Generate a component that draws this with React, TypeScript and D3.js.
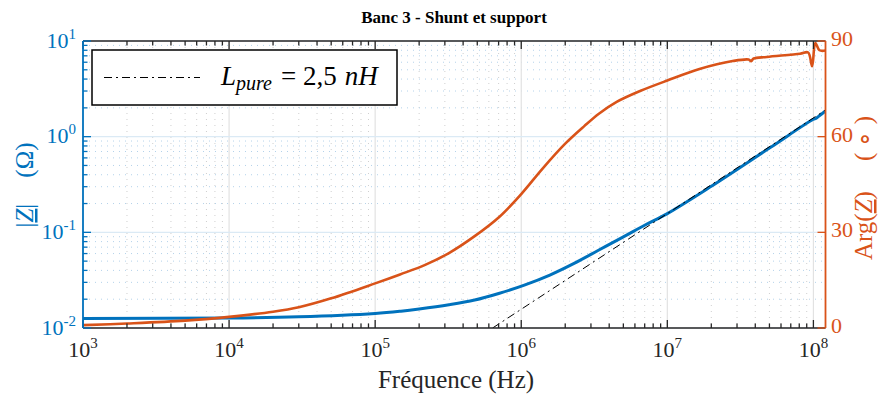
import * as d3 from 'd3';

// |Z| (ohm)
const freqMag = [1e3, 1e4, 3e4, 1e5, 1.5e5, 2e5, 3.2e5, 4.8e5, 7.1e5, 1.05e6, 1.57e6, 2.3e6, 3.4e6, 5e6, 7e6, 1e7, 2e7, 5e7, 1e8, 1.04e8, 1.08e8, 1.21e8];
const magZ = [0.0126, 0.0127, 0.0131, 0.0142, 0.015, 0.0158, 0.0175, 0.0196, 0.0231, 0.0281, 0.0358, 0.0474, 0.0653, 0.0895, 0.1185, 0.157, 0.303, 0.76, 1.52, 1.55, 1.62, 1.86];

// Arg(Z) (deg)
const freqPhase = [1e3, 2e3, 5e3, 1e4, 2e4, 3e4, 5e4, 1e5, 1.48e5, 2.2e5, 3.2e5, 4.8e5, 7.1e5, 1e6, 1.4e6, 2e6, 2.7e6, 3.4e6, 4.5e6, 6.5e6, 1e7, 1.66e7, 2.8e7, 3.6e7, 3.75e7, 3.9e7, 4.8e7, 8.1e7, 9.2e7, 9.8e7, 1.03e8, 1.1e8, 1.21e8];
const phaseZ = [0.9, 1.4, 2.3, 3.5, 5.1, 6.5, 9.3, 14, 16.8, 19.8, 23.5, 28.8, 34.9, 42, 50, 57.8, 63.3, 67.2, 70.9, 74.3, 77.6, 81.2, 83.7, 84.2, 83.7, 84.5, 85, 86, 86.4, 82.1, 89.4, 87.1, 87];

const lPure = 2.5e-9;
const xTickExps = [3, 4, 5, 6, 7, 8];
const yLeftTickExps = [-2, -1, 0, 1];
const yRightTicks = [0, 30, 60, 90];

const BLUE = '#0072BD';
const ORANGE = '#D95319';
const DARK = '#262626';
const FONT = '"Liberation Serif", serif';

const left = 83;
const right = 825.5;
const top = 41;
const bottom = 328;

export default function App() {
  const x = d3.scaleLog().domain([1e3, 1.21e8]).range([left, right]);
  const yL = d3.scaleLog().domain([1e-2, 1e1]).range([bottom, top]);
  const yR = d3.scaleLinear().domain([0, 90]).range([bottom, top]);

  const xMinor: number[] = [];
  for (let e = 3; e <= 8; e++) for (let k = 2; k <= 9; k++) if (k * 10 ** e <= 1.21e8) xMinor.push(k * 10 ** e);
  const yMinor: number[] = [];
  for (let e = -2; e <= 0; e++) for (let k = 2; k <= 9; k++) yMinor.push(k * 10 ** e);

  const magLine = d3
    .line<number>()
    .x((_, i) => x(freqMag[i]))
    .y((d) => yL(d))
    .curve(d3.curveCatmullRom.alpha(0.5));
  const phaseLine = d3
    .line<number>()
    .x((_, i) => x(freqPhase[i]))
    .y((d) => yR(d))
    .curve(d3.curveCatmullRom.alpha(0.5));

  // pure inductance |Z| = 2*pi*f*L, from where it enters the axes
  const fStart = 1e-2 / (2 * Math.PI * lPure);
  const indFreqs = [fStart, 1.21e8];
  const indLine = d3
    .line<number>()
    .x((d) => x(d))
    .y((d) => yL(2 * Math.PI * d * lPure));

  return (
    <svg width={880} height={398} style={{ position: 'absolute', left: 0, top: 0, background: '#fff' }} fontFamily={FONT}>
      <defs>
        <clipPath id="plot">
          <rect x={left} y={top} width={right - left} height={bottom - top} />
        </clipPath>
      </defs>

      {/* minor grid */}
      {xMinor.map((v) => (
        <line key={'xm' + v} x1={x(v)} x2={x(v)} y1={top} y2={bottom} stroke="#cfcfcf" strokeWidth={1} strokeDasharray="1,5" />
      ))}
      {yMinor.map((v) => (
        <line key={'ym' + v} x1={left} x2={right} y1={yL(v)} y2={yL(v)} stroke="#b4d2ea" strokeWidth={1} strokeDasharray="1,5" />
      ))}
      {/* major grid */}
      {xTickExps.map((e) => (
        <line key={'xg' + e} x1={x(10 ** e)} x2={x(10 ** e)} y1={top} y2={bottom} stroke="#e2e2e2" strokeWidth={1.2} />
      ))}
      {yLeftTickExps.map((e) => (
        <line key={'yg' + e} x1={left} x2={right} y1={yL(10 ** e)} y2={yL(10 ** e)} stroke="#dbeaf5" strokeWidth={1.2} />
      ))}

      {/* curves */}
      <g clipPath="url(#plot)">
        <path d={magLine(magZ) || ''} fill="none" stroke={BLUE} strokeWidth={3} strokeLinejoin="round" />
        <path d={indLine(indFreqs) || ''} fill="none" stroke="#000" strokeWidth={1} strokeDasharray="8,4,2,4" />
        <path d={phaseLine(phaseZ) || ''} fill="none" stroke={ORANGE} strokeWidth={2.6} strokeLinejoin="round" />
      </g>

      {/* top and bottom axes */}
      <line x1={left} x2={right} y1={top} y2={top} stroke={DARK} strokeWidth={1.6} />
      <line x1={left} x2={right} y1={bottom} y2={bottom} stroke={DARK} strokeWidth={1.6} />
      {xMinor.map((v) => (
        <g key={'xt' + v} stroke={DARK} strokeWidth={1.3}>
          <line x1={x(v)} x2={x(v)} y1={bottom} y2={bottom - 4.5} />
          <line x1={x(v)} x2={x(v)} y1={top} y2={top + 4.5} />
        </g>
      ))}
      {xTickExps.map((e) => (
        <g key={'xT' + e}>
          <line x1={x(10 ** e)} x2={x(10 ** e)} y1={bottom} y2={bottom - 8} stroke={DARK} strokeWidth={1.3} />
          <line x1={x(10 ** e)} x2={x(10 ** e)} y1={top} y2={top + 8} stroke={DARK} strokeWidth={1.3} />
          <text x={x(10 ** e)} y={357} textAnchor="middle" fontSize={22} fill={DARK}>
            10<tspan dy={-9} fontSize={15}>{e}</tspan>
          </text>
        </g>
      ))}

      {/* left axis */}
      <line x1={left} x2={left} y1={top} y2={bottom} stroke={BLUE} strokeWidth={1.8} />
      {yMinor.map((v) => (
        <line key={'yt' + v} x1={left} x2={left + 4.5} y1={yL(v)} y2={yL(v)} stroke={BLUE} strokeWidth={1.3} />
      ))}
      {yLeftTickExps.map((e) => (
        <g key={'yT' + e}>
          <line x1={left} x2={left + 8} y1={yL(10 ** e)} y2={yL(10 ** e)} stroke={BLUE} strokeWidth={1.3} />
          <text x={76} y={yL(10 ** e) + 6.5} textAnchor="end" fontSize={22} fill={BLUE}>
            10<tspan dy={-9} fontSize={15}>{e}</tspan>
          </text>
        </g>
      ))}

      {/* right axis */}
      <line x1={right} x2={right} y1={top} y2={bottom} stroke={ORANGE} strokeWidth={1.8} />
      {yRightTicks.map((v) => (
        <g key={'rT' + v}>
          <line x1={right} x2={right - 8} y1={yR(v)} y2={yR(v)} stroke={ORANGE} strokeWidth={1.3} />
          <text x={831} y={yR(v) + 5} fontSize={22} fill={ORANGE}>
            {v}
          </text>
        </g>
      ))}

      {/* axis labels */}
      <text transform="translate(33,185) rotate(-90)" textAnchor="middle" fontSize={25} fill={BLUE}>
        <tspan style={{ textDecoration: 'underline' }}>
          |<tspan fontStyle="italic">Z</tspan>|
        </tspan>
        <tspan dx={26}>(Ω)</tspan>
      </text>
      <text transform="translate(872,188) rotate(-90)" textAnchor="middle" fontSize={25} fill={ORANGE}>
        Arg(<tspan fontStyle="italic" style={{ textDecoration: 'underline' }}>Z</tspan>)
        <tspan dx={30}>( ∘ )</tspan>
      </text>
      <text x={456} y={388} textAnchor="middle" fontSize={25} fill={DARK}>
        Fréquence (Hz)
      </text>
      <text x={454} y={23} textAnchor="middle" fontSize={17} fontWeight="bold" fill="#000">
        Banc 3 - Shunt et support
      </text>

      {/* legend */}
      <rect x={92} y={50} width={305} height={55} fill="#fff" stroke="#000" strokeWidth={1.5} />
      <line x1={104} x2={200} y1={77.5} y2={77.5} stroke="#000" strokeWidth={1.2} strokeDasharray="8,4,2,4" />
      <text x={221} y={85} fontSize={27} fill="#000">
        <tspan fontStyle="italic">L</tspan>
        <tspan fontStyle="italic" fontSize={20} dy={5}>pure</tspan>
        <tspan dy={-5} dx={9}>= 2,5</tspan>
        <tspan dx={8} fontStyle="italic">nH</tspan>
      </text>
    </svg>
  );
}
